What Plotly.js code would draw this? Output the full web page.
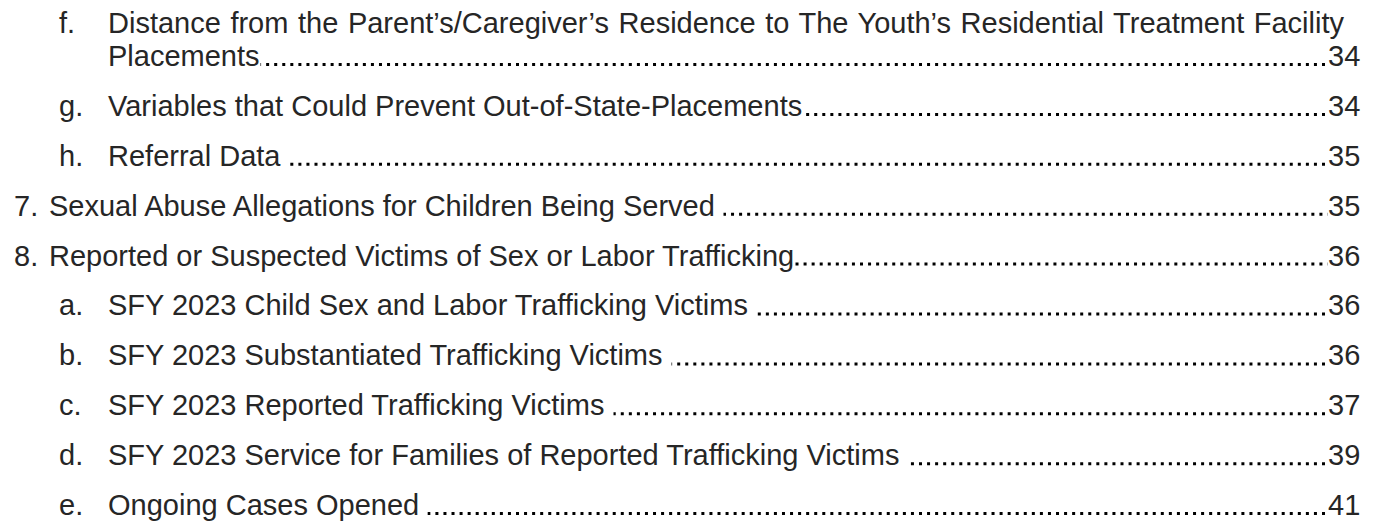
<!DOCTYPE html>
<html>
<head>
<meta charset="utf-8">
<script src="https://cdn.plot.ly/plotly-3.0.1.min.js"></script>
<style>html,body{margin:0;padding:0;background:#fff;}#chart{width:1379px;height:527px;}</style>
</head>
<body>
<div id="chart"></div>
<script>
// ---- data ----
const levels = [2, 2, 2, 1, 1, 2, 2, 2, 2, 2];
const labels = ["f.", "g.", "h.", "7.", "8.", "a.", "b.", "c.", "d.", "e."];
const titleLines = [
  ["Distance from the Parent’s/Caregiver’s Residence to The Youth’s Residential Treatment Facility", "Placements"],
  ["Variables that Could Prevent Out-of-State-Placements"],
  ["Referral Data\u00a0"],
  ["Sexual Abuse Allegations for Children Being Served\u00a0"],
  ["Reported or Suspected Victims of Sex or Labor Trafficking"],
  ["SFY 2023 Child Sex and Labor Trafficking Victims\u00a0"],
  ["SFY 2023 Substantiated Trafficking Victims\u00a0"],
  ["SFY 2023 Reported Trafficking Victims\u00a0"],
  ["SFY 2023 Service for Families of Reported Trafficking Victims\u00a0"],
  ["Ongoing Cases Opened\u00a0"]
];
const pages = ["34", "34", "35", "35", "36", "36", "36", "37", "39", "41"];

// ---- layout / style constants ----
const W = 1379, H = 527;
const FONT = "Liberation Sans, Arial, Helvetica, sans-serif";
const FS = 29;
const TEXT_COLOR = "#262626";
const labelX = {1: 12, 2: 57};
const titleX = {1: 48, 2: 107};
const pageRight = 1361;
const justifyRight = 1343;
const firstBaseline = 66;     // baseline of the last line of the first entry
const pitch = 49.9;
const wrapGap = 33;
const baseToMid = 0.3465 * FS; // annotation box middle sits this far above the baseline

const traces = [];
const annotations = [];
const justifyIdx = [];
levels.forEach((lv, i) => {
  const base = firstBaseline + pitch * i;
  const yc = base - baseToMid;
  const lines = titleLines[i];
  const nExtra = lines.length - 1;
  const yTop = yc - wrapGap * nExtra;
  traces.push({
    type: "scatter", mode: "lines",
    x: [titleX[lv] + 6, pageRight - 6], y: [base - 1.5, base - 1.5],
    line: {color: "#000", width: 3, dash: "3px,5.06px"},
    hoverinfo: "skip", showlegend: false
  });
  annotations.push({
    x: labelX[lv], y: yTop, xref: "x", yref: "y", xanchor: "left", yanchor: "middle",
    text: labels[i], showarrow: false, font: {family: FONT, size: FS, color: TEXT_COLOR}
  });
  lines.forEach((ln, k) => {
    if (k < nExtra) justifyIdx.push({idx: annotations.length, left: titleX[lv]});
    annotations.push({
      x: titleX[lv], y: yTop + wrapGap * k, xref: "x", yref: "y", xanchor: "left", yanchor: "middle",
      text: ln, showarrow: false, bgcolor: "#ffffff", borderpad: 0,
      font: {family: FONT, size: FS, color: TEXT_COLOR}
    });
  });
  annotations.push({
    x: pageRight, y: yc, xref: "x", yref: "y", xanchor: "right", yanchor: "middle",
    text: pages[i], showarrow: false, bgcolor: "#ffffff", borderpad: 0,
    font: {family: FONT, size: FS, color: TEXT_COLOR}
  });
});

const layout = {
  width: W, height: H,
  margin: {l: 0, r: 0, t: 0, b: 0},
  paper_bgcolor: "#ffffff", plot_bgcolor: "#ffffff",
  xaxis: {range: [0, W], visible: false, fixedrange: true},
  yaxis: {range: [H, 0], visible: false, fixedrange: true},
  annotations: annotations,
  showlegend: false
};
Plotly.newPlot("chart", traces, layout, {staticPlot: true, displayModeBar: false}).then(gd => {
  // justify wrapped (non-final) lines like the word processor does
  justifyIdx.forEach(j => {
    const t = gd.querySelector('.annotation[data-index="' + j.idx + '"] text.annotation-text');
    if (!t) return;
    const bb = t.getBBox();
    const txt = t.textContent;
    const gaps = (txt.match(/ /g) || []).length;
    const w = t.getComputedTextLength();
    const extra = (justifyRight - j.left) - w;
    t.setAttribute("text-anchor", "start");
    t.setAttribute("x", bb.x);
    t.querySelectorAll("tspan").forEach(s => { if (s.hasAttribute("x")) s.setAttribute("x", bb.x); });
    if (gaps > 0 && extra > 0) t.style.wordSpacing = (extra / gaps) + "px";
  });
});
</script>
</body>
</html>
